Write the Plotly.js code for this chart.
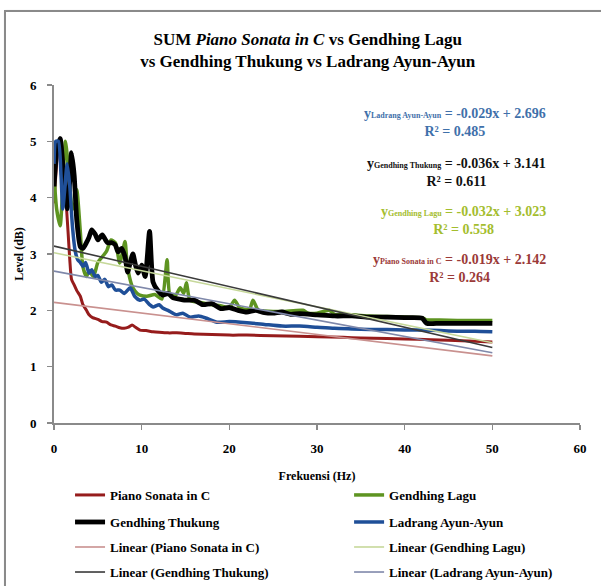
<!DOCTYPE html>
<html>
<head>
<meta charset="utf-8">
<script src="https://cdn.plot.ly/plotly-3.0.1.min.js"></script>
<style>
  html, body { margin: 0; padding: 0; background: #fff; overflow: hidden; }
  #wrap { position: relative; width: 601px; height: 586px; }
  #plot { width: 601px; height: 586px; }
  #frame { position: absolute; left: 4px; top: 10px; width: 700px; height: 700px;
           border: 2px solid #8a8a8a; box-shadow: 1px 1px 2px #bbb; pointer-events: none; }
</style>
</head>
<body>
<div id="wrap"><div id="plot"></div><div id="frame"></div></div>
<script>
// ---------- data ----------
const pianoX = [0,0.3,0.6,1.0,1.3,1.6,1.8,2.0,2.3,2.6,3.0,3.3,3.7,4.0,4.4,5.0,5.5,6.0,6.5,7.0,7.5,8.0,8.5,8.9,9.3,9.8,10.5,11.3,12,13,14,15,16,18,20,22,25,28,30,33,35,38,40,43,45,48,50];
const pianoY = [3.9,4.6,5.0,4.6,4.1,3.4,2.9,2.55,2.45,2.35,2.25,2.1,2.0,1.92,1.87,1.84,1.8,1.79,1.74,1.72,1.69,1.68,1.7,1.74,1.7,1.65,1.64,1.62,1.61,1.6,1.6,1.59,1.58,1.57,1.56,1.56,1.55,1.54,1.53,1.52,1.51,1.5,1.49,1.48,1.47,1.45,1.44];

const laguX = [0,0.3,0.7,1.0,1.3,1.6,2.0,2.3,2.6,3.0,3.3,3.7,4.0,4.5,5.0,5.5,6.0,6.5,7.0,7.5,8.1,8.3,8.6,9.0,9.5,9.8,10.6,11.5,12.3,12.9,13.2,13.8,14.4,14.8,15.1,15.5,16.2,17,18,19,20,20.6,21.2,22.3,22.7,23.3,24,26,28.4,29,30,31.4,32,34,36,38,40,42,42.5,44,46,48,50];
const laguY = [4.4,3.8,3.5,4.2,5.0,4.6,3.9,3.8,4.14,3.4,2.77,2.6,2.7,2.6,2.85,2.95,3.05,3.25,3.2,2.84,3.22,2.9,2.6,2.4,2.3,2.27,2.25,2.28,2.2,2.9,2.3,2.25,2.4,2.3,2.49,2.18,2.15,2.13,2.1,2.08,2.05,2.18,2.04,2.02,2.18,2.0,1.99,1.98,2.0,1.95,1.95,2.0,1.93,1.92,1.9,1.89,1.88,1.87,1.83,1.83,1.82,1.82,1.82];

const thukungX = [0,0.3,0.7,1.0,1.3,1.5,1.8,2.0,2.3,2.6,3.0,3.3,3.7,4.0,4.3,4.7,5.0,5.5,6.1,6.6,7.0,7.3,7.7,8.1,8.4,8.7,9.0,9.3,9.6,10.0,10.4,10.9,11.3,11.8,12.4,13.0,13.6,14.3,15.1,16,17,18,19,20,21,22,23,24,25,26,27,28,30,32,34,36,38,40,42,42.5,44,46,48,50];
const thukungY = [4.2,4.8,5.05,4.6,4.0,3.8,4.3,4.8,4.4,3.6,3.13,3.1,3.2,3.3,3.43,3.35,3.25,3.34,3.2,3.2,3.16,3.04,3.1,2.95,2.68,2.85,3.0,2.8,2.66,2.8,2.6,3.4,2.5,2.36,2.27,2.3,2.22,2.2,2.18,2.18,2.1,2.12,2.03,2.05,2.0,1.97,2.0,1.96,1.95,1.97,1.93,1.94,1.92,1.9,1.9,1.88,1.88,1.87,1.86,1.77,1.77,1.77,1.77,1.77];

const ladrangX = [0,0.2,0.5,0.8,1.0,1.2,1.5,1.8,2.1,2.4,2.7,3.0,3.3,3.6,4.0,4.3,4.7,5.0,5.4,5.8,6.2,6.6,7.0,7.5,8.0,8.7,9.2,9.8,10.3,10.9,11.3,12.0,12.4,13.0,14.0,14.7,15.5,16.5,17.4,18.6,20,22,24,26,28,30,32,34,36,38,40,42,44,46,48,50];
const ladrangY = [4.6,5.0,5.0,4.4,3.8,4.1,4.6,4.2,3.5,3.07,2.9,2.85,2.78,2.85,2.66,2.72,2.6,2.62,2.5,2.55,2.42,2.45,2.36,2.36,2.3,2.4,2.25,2.18,2.2,2.1,2.06,2.1,2.04,2.0,1.92,1.95,1.88,1.9,1.86,1.79,1.8,1.78,1.75,1.72,1.72,1.7,1.68,1.67,1.66,1.66,1.65,1.65,1.64,1.63,1.63,1.62];

const seriesNames = ["Piano Sonata in C", "Gendhing Lagu", "Gendhing Thukung", "Ladrang Ayun-Ayun"];
const trendSlopes = [-0.019, -0.032, -0.036, -0.029];
const trendIntercepts = [2.142, 3.023, 3.141, 2.696];
const trendR2 = [0.264, 0.558, 0.611, 0.485];
const trendXRange = [0, 50];

const xTicks = [0,10,20,30,40,50,60];
const yTicks = [0,1,2,3,4,5,6];

// ---------- styles ----------
const FONT = "'Liberation Serif', 'Times New Roman', serif";
const dataColors = ["#961c1c", "#5e9421", "#000000", "#1f4f98"];
const dataWidths = [3, 3.5, 4.8, 3.5];
const trendColors = ["#c9918f", "#c6d89a", "#3a3a3a", "#7f88aa"];
const labelColors = ["#9b3a38", "#a4bd2e", "#111111", "#3f70aa"];

// legend grid: 4 rows x 2 columns, one legend per entry
const legendCols = [0.0305, 0.561];
const legendRows = [-0.213, -0.293, -0.367, -0.441];
// trace index -> [row, col]
const legendCell = [[0,0],[0,1],[1,0],[1,1],[2,0],[2,1],[3,0],[3,1]];

const xs = [pianoX, laguX, thukungX, ladrangX];
const ys = [pianoY, laguY, thukungY, ladrangY];

const traces = [];
for (let i = 0; i < 4; i++) {
  traces.push({
    type: "scatter", mode: "lines", name: seriesNames[i],
    x: xs[i], y: ys[i],
    line: { color: dataColors[i], width: dataWidths[i], shape: "spline", smoothing: 0.6 },
    hoverinfo: "skip"
  });
}
for (let i = 0; i < 4; i++) {
  traces.push({
    type: "scatter", mode: "lines", name: "Linear (" + seriesNames[i] + ")",
    x: trendXRange,
    y: trendXRange.map(v => trendSlopes[i] * v + trendIntercepts[i]),
    line: { color: trendColors[i], width: 1.6 },
    hoverinfo: "skip"
  });
}
const legendKeys = [];
traces.forEach((t, k) => {
  const key = k === 0 ? "legend" : "legend" + (k + 1);
  t.legend = key;
  legendKeys.push(key);
});

// equation labels
const labelOrder = [3, 2, 1, 0];
const labelY = [5.33, 4.45, 3.6, 2.74];
const annotations = labelOrder.map((idx, k) => {
  const m = trendSlopes[idx], b = trendIntercepts[idx];
  const eq = "y<span style='font-size:8px'>" + seriesNames[idx] + "</span> = " +
             (m < 0 ? "-" : "") + Math.abs(m).toFixed(3) + "x + " + b.toFixed(3) +
             "<br>R² = " + trendR2[idx].toFixed(3);
  return {
    xref: "x", yref: "y", x: 56.3, y: labelY[k], xanchor: "right", yanchor: "middle",
    align: "center", showarrow: false, text: eq,
    font: { family: FONT, size: 14, color: labelColors[idx], weight: "bold" }
  };
});

const layout = {
  width: 601, height: 586,
  margin: { l: 54, r: 21, t: 85, b: 163, pad: 0, autoexpand: false },
  paper_bgcolor: "#fff", plot_bgcolor: "#fff",
  font: { family: FONT, color: "#000" },
  title: {
    text: "<b>SUM <i>Piano Sonata in C</i> vs Gendhing Lagu<br>vs Gendhing Thukung vs Ladrang Ayun-Ayun</b>",
    font: { family: FONT, size: 17, color: "#000" },
    xref: "container", x: 0.512, xanchor: "center",
    yref: "container", y: 0.923, yanchor: "top"
  },
  xaxis: {
    range: [0, 60], tickvals: xTicks, ticktext: xTicks.map(String),
    showgrid: false, zeroline: false, showline: true, linecolor: "#8a8a8a", linewidth: 2,
    ticks: "outside", ticklen: 5, tickwidth: 1.5, tickcolor: "#8a8a8a", ticklabelstandoff: 7,
    tickfont: { family: FONT, size: 13, color: "#000", weight: "bold" },
    title: { text: "Frekuensi (Hz)", font: { family: FONT, size: 12, color: "#000", weight: "bold" }, standoff: 17 },
    fixedrange: true
  },
  yaxis: {
    range: [0, 6], tickvals: yTicks, ticktext: yTicks.map(String),
    showgrid: false, zeroline: false, showline: true, linecolor: "#8a8a8a", linewidth: 2,
    ticks: "outside", ticklen: 5, tickwidth: 1.5, tickcolor: "#8a8a8a", ticklabelstandoff: 8,
    tickfont: { family: FONT, size: 13, color: "#000", weight: "bold" },
    title: { text: "Level (dB)", font: { family: FONT, size: 12, color: "#000", weight: "bold" }, standoff: 4 },
    fixedrange: true
  },
  annotations: annotations,
  showlegend: true
};
legendKeys.forEach((key, k) => {
  const [r, c] = legendCell[k];
  layout[key] = {
    orientation: "v", x: legendCols[c], xanchor: "left", y: legendRows[r], yanchor: "middle",
    bgcolor: "rgba(0,0,0,0)", borderwidth: 0, itemwidth: 30,
    font: { family: FONT, size: 13, color: "#000", weight: "bold" }
  };
});

Plotly.newPlot("plot", traces, layout, { displayModeBar: false, staticPlot: true });
</script>
</body>
</html>
